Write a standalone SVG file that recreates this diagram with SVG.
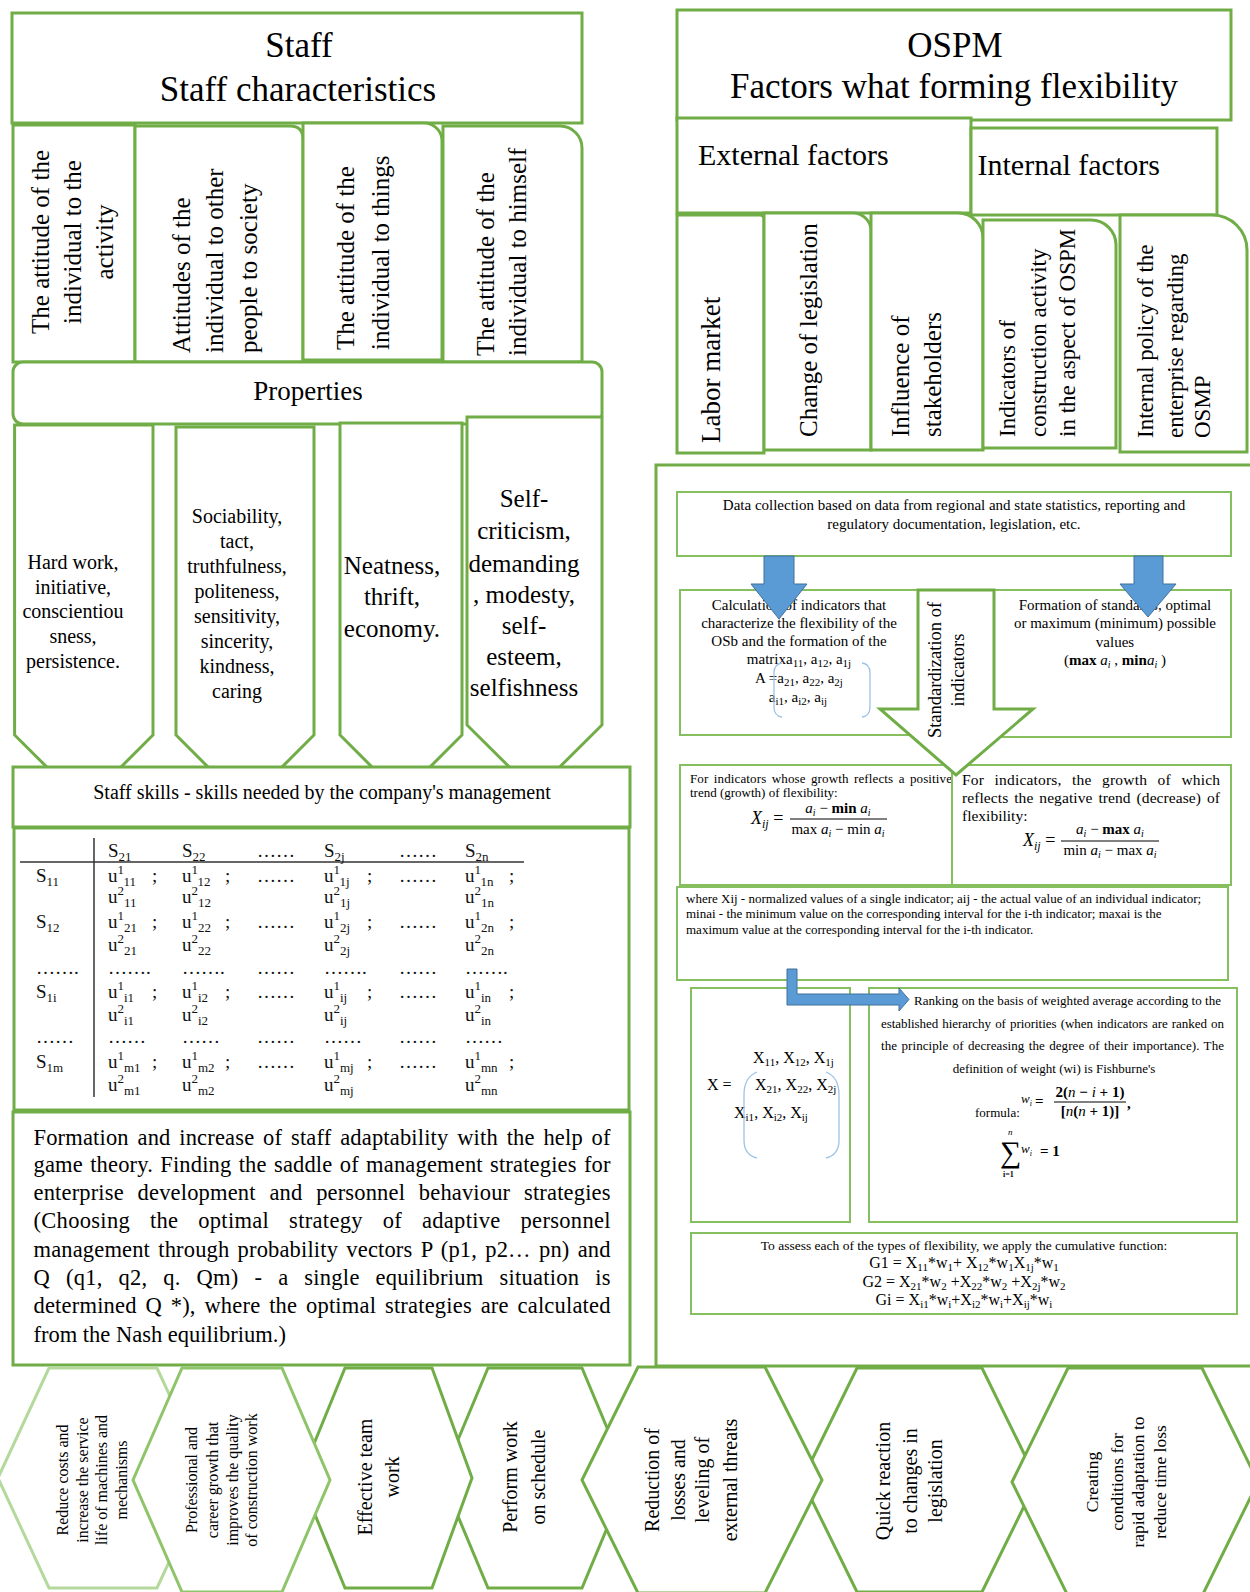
<svg xmlns="http://www.w3.org/2000/svg" width="1250" height="1592" viewBox="0 0 1250 1592">
<style>
.g{fill:#fff;stroke:#70ad47;stroke-width:3}
.gl{fill:#fff;stroke:#86bf60;stroke-width:2}
.t{font-family:"Liberation Serif","Times New Roman",serif;fill:#000}
.it{font-style:italic}
.b{font-weight:bold}
.blue{fill:#5b9bd5;stroke:#41719c;stroke-width:1}
.br{fill:none;stroke:#9dc3e6;stroke-width:1.3}
.mx{font-family:"Liberation Serif","Times New Roman",serif;font-size:19px;fill:#111}
.ln{stroke:#333;stroke-width:1.5}
</style>
<rect width="1250" height="1592" fill="#fff"/>

<!-- LEFT COLUMN -->
<g id="staff">
<rect class="g" x="12" y="13" width="570" height="110"/>
<text class="t" font-size="35" text-anchor="middle" x="299" y="57">Staff</text>
<text class="t" font-size="35" text-anchor="middle" x="298" y="101">Staff characteristics</text>
</g>
<g id="attA">
<rect class="g" x="13" y="125" width="122" height="237"/>
<text class="t" font-size="25" text-anchor="middle" transform="translate(0,242) rotate(-90)"><tspan x="0" y="49">The attitude of the</tspan><tspan x="0" y="80.5">individual to the</tspan><tspan x="0" y="112.5">activity</tspan></text>
</g>
<g id="attB">
<path class="g" d="M135,126 H290 Q303,126 303,139 V362 H135 Z"/>
<text class="t" font-size="25" transform="translate(0,353) rotate(-90)"><tspan x="0" y="189.5">Attitudes of the</tspan><tspan x="0" y="223">individual to other</tspan><tspan x="0" y="256.5">people to society</tspan></text>
</g>
<g id="attC">
<path class="g" d="M303,123 H424 A18,18 0 0 1 442,141 V360 H303 Z"/>
<text class="t" font-size="25" transform="translate(0,350) rotate(-90)"><tspan x="0" y="353.5">The attitude of the</tspan><tspan x="0" y="389">individual to things</tspan></text>
</g>
<g id="attD">
<path class="g" d="M443,126 H560 A22,22 0 0 1 582,148 V362 H443 Z"/>
<text class="t" font-size="25" transform="translate(0,356) rotate(-90)"><tspan x="0" y="493.5">The attitude of the</tspan><tspan x="0" y="525.5">individual to himself</tspan></text>
</g>
<g id="properties">
<rect class="g" x="13" y="362" width="589" height="62" rx="10"/>
<text class="t" font-size="27" text-anchor="middle" x="308" y="400">Properties</text>
</g>
<g id="prop1">
<polygon class="g" points="14.6,425 153,425 153,735 84,804 14.6,735"/>
<text class="t" font-size="20" text-anchor="middle"><tspan x="73" y="569">Hard work,</tspan><tspan x="73" y="594">initiative,</tspan><tspan x="73" y="618">conscientiou</tspan><tspan x="73" y="643">sness,</tspan><tspan x="73" y="668">persistence.</tspan></text>
</g>
<g id="prop2">
<polygon class="g" points="176,427 314,427 314,735 245,804 176,735"/>
<text class="t" font-size="20" text-anchor="middle"><tspan x="237" y="523">Sociability,</tspan><tspan x="237" y="548">tact,</tspan><tspan x="237" y="573">truthfulness,</tspan><tspan x="237" y="598">politeness,</tspan><tspan x="237" y="623">sensitivity,</tspan><tspan x="237" y="648">sincerity,</tspan><tspan x="237" y="673">kindness,</tspan><tspan x="237" y="698">caring</tspan></text>
</g>
<g id="prop3">
<polygon class="g" points="340,423 462,423 462,735 401,796 340,735"/>
<text class="t" font-size="25" text-anchor="middle"><tspan x="392" y="574">Neatness,</tspan><tspan x="392" y="605">thrift,</tspan><tspan x="392" y="637">economy.</tspan></text>
</g>
<g id="prop4">
<polygon class="g" points="467,417 602,417 602,725 534.5,792 467,725"/>
<text class="t" font-size="25" text-anchor="middle"><tspan x="524" y="507">Self-</tspan><tspan x="524" y="539">criticism,</tspan><tspan x="524" y="572">demanding</tspan><tspan x="524" y="603">, modesty,</tspan><tspan x="524" y="634">self-</tspan><tspan x="524" y="665">esteem,</tspan><tspan x="524" y="696">selfishness</tspan></text>
</g>
<g id="skills">
<rect class="g" x="13" y="767" width="617" height="60"/>
<text class="t" font-size="20" text-anchor="middle" x="322" y="799">Staff skills - skills needed by the company's management</text>
</g>
<g id="matrix">
<rect class="g" x="14" y="828" width="615" height="282"/>
<line class="ln" x1="20" y1="862" x2="524" y2="862"/>
<line class="ln" x1="94" y1="838" x2="94" y2="1097"/>
<g class="mx">
<text x="108" y="857">S<tspan font-size="13" dy="4">21</tspan></text>
<text x="182" y="857">S<tspan font-size="13" dy="4">22</tspan></text>
<text x="257" y="857">……</text>
<text x="324" y="857">S<tspan font-size="13" dy="4">2j</tspan></text>
<text x="399" y="857">……</text>
<text x="465" y="857">S<tspan font-size="13" dy="4">2n</tspan></text>

<text x="36" y="882">S<tspan font-size="13" dy="4">11</tspan></text>
<text x="108" y="882">u<tspan font-size="13" dy="-8">1</tspan><tspan font-size="13" dy="12">11</tspan></text><text x="152" y="882">;</text>
<text x="182" y="882">u<tspan font-size="13" dy="-8">1</tspan><tspan font-size="13" dy="12">12</tspan></text><text x="225" y="882">;</text>
<text x="257" y="882">……</text>
<text x="324" y="882">u<tspan font-size="13" dy="-8">1</tspan><tspan font-size="13" dy="12">1j</tspan></text><text x="367" y="882">;</text>
<text x="399" y="882">……</text>
<text x="465" y="882">u<tspan font-size="13" dy="-8">1</tspan><tspan font-size="13" dy="12">1n</tspan></text><text x="509" y="882">;</text>
<text x="108" y="903">u<tspan font-size="13" dy="-8">2</tspan><tspan font-size="13" dy="12">11</tspan></text>
<text x="182" y="903">u<tspan font-size="13" dy="-8">2</tspan><tspan font-size="13" dy="12">12</tspan></text>
<text x="324" y="903">u<tspan font-size="13" dy="-8">2</tspan><tspan font-size="13" dy="12">1j</tspan></text>
<text x="465" y="903">u<tspan font-size="13" dy="-8">2</tspan><tspan font-size="13" dy="12">1n</tspan></text>

<text x="36" y="928">S<tspan font-size="13" dy="4">12</tspan></text>
<text x="108" y="928">u<tspan font-size="13" dy="-8">1</tspan><tspan font-size="13" dy="12">21</tspan></text><text x="152" y="928">;</text>
<text x="182" y="928">u<tspan font-size="13" dy="-8">1</tspan><tspan font-size="13" dy="12">22</tspan></text><text x="225" y="928">;</text>
<text x="257" y="928">……</text>
<text x="324" y="928">u<tspan font-size="13" dy="-8">1</tspan><tspan font-size="13" dy="12">2j</tspan></text><text x="367" y="928">;</text>
<text x="399" y="928">……</text>
<text x="465" y="928">u<tspan font-size="13" dy="-8">1</tspan><tspan font-size="13" dy="12">2n</tspan></text><text x="509" y="928">;</text>
<text x="108" y="951">u<tspan font-size="13" dy="-8">2</tspan><tspan font-size="13" dy="12">21</tspan></text>
<text x="182" y="951">u<tspan font-size="13" dy="-8">2</tspan><tspan font-size="13" dy="12">22</tspan></text>
<text x="324" y="951">u<tspan font-size="13" dy="-8">2</tspan><tspan font-size="13" dy="12">2j</tspan></text>
<text x="465" y="951">u<tspan font-size="13" dy="-8">2</tspan><tspan font-size="13" dy="12">2n</tspan></text>

<text x="36" y="974">…….</text><text x="108" y="974">…….</text><text x="182" y="974">…….</text><text x="257" y="974">……</text><text x="324" y="974">…….</text><text x="399" y="974">……</text><text x="465" y="974">…….</text>

<text x="36" y="998">S<tspan font-size="13" dy="4">1i</tspan></text>
<text x="108" y="998">u<tspan font-size="13" dy="-8">1</tspan><tspan font-size="13" dy="12">i1</tspan></text><text x="152" y="998">;</text>
<text x="182" y="998">u<tspan font-size="13" dy="-8">1</tspan><tspan font-size="13" dy="12">i2</tspan></text><text x="225" y="998">;</text>
<text x="257" y="998">……</text>
<text x="324" y="998">u<tspan font-size="13" dy="-8">1</tspan><tspan font-size="13" dy="12">ij</tspan></text><text x="367" y="998">;</text>
<text x="399" y="998">……</text>
<text x="465" y="998">u<tspan font-size="13" dy="-8">1</tspan><tspan font-size="13" dy="12">in</tspan></text><text x="509" y="998">;</text>
<text x="108" y="1021">u<tspan font-size="13" dy="-8">2</tspan><tspan font-size="13" dy="12">i1</tspan></text>
<text x="182" y="1021">u<tspan font-size="13" dy="-8">2</tspan><tspan font-size="13" dy="12">i2</tspan></text>
<text x="324" y="1021">u<tspan font-size="13" dy="-8">2</tspan><tspan font-size="13" dy="12">ij</tspan></text>
<text x="465" y="1021">u<tspan font-size="13" dy="-8">2</tspan><tspan font-size="13" dy="12">in</tspan></text>

<text x="36" y="1043">……</text><text x="108" y="1043">……</text><text x="182" y="1043">……</text><text x="257" y="1043">……</text><text x="324" y="1043">……</text><text x="399" y="1043">……</text><text x="465" y="1043">……</text>

<text x="36" y="1068">S<tspan font-size="13" dy="4">1m</tspan></text>
<text x="108" y="1068">u<tspan font-size="13" dy="-8">1</tspan><tspan font-size="13" dy="12">m1</tspan></text><text x="152" y="1068">;</text>
<text x="182" y="1068">u<tspan font-size="13" dy="-8">1</tspan><tspan font-size="13" dy="12">m2</tspan></text><text x="225" y="1068">;</text>
<text x="257" y="1068">……</text>
<text x="324" y="1068">u<tspan font-size="13" dy="-8">1</tspan><tspan font-size="13" dy="12">mj</tspan></text><text x="367" y="1068">;</text>
<text x="399" y="1068">……</text>
<text x="465" y="1068">u<tspan font-size="13" dy="-8">1</tspan><tspan font-size="13" dy="12">mn</tspan></text><text x="509" y="1068">;</text>
<text x="108" y="1091">u<tspan font-size="13" dy="-8">2</tspan><tspan font-size="13" dy="12">m1</tspan></text>
<text x="182" y="1091">u<tspan font-size="13" dy="-8">2</tspan><tspan font-size="13" dy="12">m2</tspan></text>
<text x="324" y="1091">u<tspan font-size="13" dy="-8">2</tspan><tspan font-size="13" dy="12">mj</tspan></text>
<text x="465" y="1091">u<tspan font-size="13" dy="-8">2</tspan><tspan font-size="13" dy="12">mn</tspan></text>
</g>
</g>
<g id="formation">
<rect class="g" x="13" y="1112" width="617" height="253"/>
<g class="t" font-size="22.5">
<text x="33.5" y="1145" word-spacing="3" textLength="577" lengthAdjust="spacing">Formation and increase of staff adaptability with the help of</text>
<text x="33.5" y="1172" word-spacing="1.5" textLength="577" lengthAdjust="spacing">game theory. Finding the saddle of management strategies for</text>
<text x="33.5" y="1200" word-spacing="8" textLength="577" lengthAdjust="spacing">enterprise development and personnel behaviour strategies</text>
<text x="33.5" y="1228" word-spacing="14" textLength="577" lengthAdjust="spacing">(Choosing the optimal strategy of adaptive personnel</text>
<text x="33.5" y="1257" word-spacing="2.5" textLength="577" lengthAdjust="spacing">management through probability vectors P (p1, p2… pn) and</text>
<text x="33.5" y="1285" word-spacing="10" textLength="577" lengthAdjust="spacing">Q (q1, q2, q. Qm) - a single equilibrium situation is</text>
<text x="33.5" y="1313" word-spacing="3" textLength="577" lengthAdjust="spacing">determined Q *), where the optimal strategies are calculated</text>
<text x="33.5" y="1342">from the Nash equilibrium.)</text>
</g>
</g>

<!-- RIGHT COLUMN -->
<g id="ospm">
<rect class="g" x="677" y="10" width="554" height="110"/>
<text class="t" font-size="35" text-anchor="middle" x="955" y="57">OSPM</text>
<text class="t" font-size="35" text-anchor="middle" x="954" y="98">Factors what forming flexibility</text>
</g>
<g id="external">
<rect class="g" x="677" y="118" width="294" height="95"/>
<text class="t" font-size="30" x="698" y="165">External factors</text>
</g>
<g id="internal">
<rect class="g" x="971" y="128" width="246" height="87"/>
<text class="t" font-size="30" x="977.5" y="175">Internal factors</text>
</g>
<g id="labor">
<path class="g" d="M677,215 H760 Q764,215 764,219 V453 H677 Z"/>
<text class="t" font-size="27" transform="translate(0,443) rotate(-90)"><tspan x="0" y="720">Labor market</tspan></text>
</g>
<g id="legislation">
<path class="g" d="M764,213 H853 A18,18 0 0 1 871,231 V450 H764 Z"/>
<text class="t" font-size="25" transform="translate(0,437) rotate(-90)"><tspan x="0" y="817">Change of legislation</tspan></text>
</g>
<g id="stakeholders">
<path class="g" d="M871,213 H958 A25,25 0 0 1 983,238 V450 H871 Z"/>
<text class="t" font-size="25" transform="translate(0,437) rotate(-90)"><tspan x="0" y="909">Influence of</tspan><tspan x="0" y="941">stakeholders</tspan></text>
</g>
<g id="indicators">
<path class="g" d="M983,220 H1091 A25,25 0 0 1 1116,245 V448 H983 Z"/>
<text class="t" font-size="23" transform="translate(0,437) rotate(-90)"><tspan x="0" y="1015">Indicators of</tspan><tspan x="0" y="1046">construction activity</tspan><tspan x="0" y="1075">in the aspect of OSPM</tspan></text>
</g>
<g id="policy">
<path class="g" d="M1120,215 H1212 A35,35 0 0 1 1247,250 V452 H1120 Z"/>
<text class="t" font-size="23" transform="translate(0,438) rotate(-90)"><tspan x="0" y="1153">Internal policy of the</tspan><tspan x="0" y="1183">enterprise regarding</tspan><tspan x="0" y="1210">OSMP</tspan></text>
</g>

<g id="method-panel">
<rect x="656" y="465" width="600" height="901" fill="none" stroke="#70ad47" stroke-width="3"/>
</g>
<g id="data">
<rect class="gl" x="677" y="492" width="554" height="64"/>
<text class="t" font-size="15" text-anchor="middle"><tspan x="954" y="510">Data collection based on data from regional and state statistics, reporting and</tspan><tspan x="954" y="529">regulatory documentation, legislation, etc.</tspan></text>
</g>
<g id="calc">
<rect class="gl" x="680" y="590" width="262" height="145"/>
<g class="t" font-size="15" text-anchor="middle">
<text x="799" y="610">Calculation of indicators that</text>
<text x="799" y="628">characterize the flexibility of the</text>
<text x="799" y="646">OSb and the formation of the</text>
<text x="799" y="664">matrixa<tspan font-size="11" dy="3">11</tspan><tspan dy="-3">, a</tspan><tspan font-size="11" dy="3">12</tspan><tspan dy="-3">, a</tspan><tspan font-size="11" dy="3">1j</tspan></text>
<text x="799" y="683">A =a<tspan font-size="11" dy="3">21</tspan><tspan dy="-3">, a</tspan><tspan font-size="11" dy="3">22</tspan><tspan dy="-3">, a</tspan><tspan font-size="11" dy="3">2j</tspan></text>
<text x="798" y="702">a<tspan font-size="11" dy="3">i1</tspan><tspan dy="-3">, a</tspan><tspan font-size="11" dy="3">i2</tspan><tspan dy="-3">, a</tspan><tspan font-size="11" dy="3">ij</tspan></text>
</g>
<path class="br" d="M782,663 Q774,664 774,673 V707 Q774,716 782,717"/>
<path class="br" d="M862,663 Q870,664 870,673 V707 Q870,716 862,717"/>
</g>
<g id="standards">
<rect class="gl" x="960" y="590" width="271" height="147"/>
<g class="t" font-size="15" text-anchor="middle">
<text x="1115" y="610">Formation of standards, optimal</text>
<text x="1115" y="628">or maximum (minimum) possible</text>
<text x="1115" y="647">values</text>
<text x="1115" y="665">(<tspan class="b">max</tspan><tspan class="it"> a</tspan><tspan class="it" font-size="10" dy="3">i</tspan><tspan dy="-3"> , </tspan><tspan class="b">min</tspan><tspan class="it">a</tspan><tspan class="it" font-size="10" dy="3">i</tspan><tspan dy="-3"> )</tspan></text>
</g>
</g>
<g id="positive">
<rect class="gl" x="680" y="765" width="272" height="120"/>
<text class="t" font-size="13" x="690" y="783" word-spacing="2" textLength="262" lengthAdjust="spacing">For indicators whose growth reflects a positive</text>
<text class="t" font-size="13" x="690" y="797">trend (growth) of flexibility:</text>
<text class="t it" font-size="18" x="751" y="824">X<tspan font-size="12" dy="4">ij</tspan><tspan dy="-4" font-style="normal"> =</tspan></text>
<text class="t" font-size="15" text-anchor="middle" x="838" y="813"><tspan class="it">a</tspan><tspan class="it" font-size="10" dy="3">i</tspan><tspan dy="-3"> − </tspan><tspan class="b">min</tspan><tspan class="it"> a</tspan><tspan class="it" font-size="10" dy="3">i</tspan></text>
<line x1="790" y1="819" x2="887" y2="819" stroke="#000" stroke-width="1"/>
<text class="t" font-size="15" text-anchor="middle" x="838" y="834">max<tspan class="it"> a</tspan><tspan class="it" font-size="10" dy="3">i</tspan><tspan dy="-3"> − min </tspan><tspan class="it">a</tspan><tspan class="it" font-size="10" dy="3">i</tspan></text>
</g>
<g id="negative">
<rect class="gl" x="952" y="765" width="279" height="120"/>
<text class="t" font-size="15.5" x="962" y="785" word-spacing="6.5" textLength="258" lengthAdjust="spacing">For indicators, the growth of which</text>
<text class="t" font-size="15.5" x="962" y="803" word-spacing="2" textLength="258" lengthAdjust="spacing">reflects the negative trend (decrease) of</text>
<text class="t" font-size="15.5" x="962" y="821">flexibility:</text>
<text class="t it" font-size="18" x="1023" y="846">X<tspan font-size="12" dy="4">ij</tspan><tspan dy="-4" font-style="normal"> =</tspan></text>
<text class="t" font-size="15" text-anchor="middle" x="1110" y="834"><tspan class="it">a</tspan><tspan class="it" font-size="10" dy="3">i</tspan><tspan dy="-3"> − </tspan><tspan class="b">max</tspan><tspan class="it"> a</tspan><tspan class="it" font-size="10" dy="3">i</tspan></text>
<line x1="1061" y1="841" x2="1159" y2="841" stroke="#000" stroke-width="1"/>
<text class="t" font-size="15" text-anchor="middle" x="1110" y="855">min<tspan class="it"> a</tspan><tspan class="it" font-size="10" dy="3">i</tspan><tspan dy="-3"> − max </tspan><tspan class="it">a</tspan><tspan class="it" font-size="10" dy="3">i</tspan></text>
</g>
<g id="where">
<rect class="gl" x="677" y="887" width="551" height="93"/>
<g class="t" font-size="13">
<text x="686" y="903">where Xij - normalized values of a single indicator; aij - the actual value of an individual indicator;</text>
<text x="686" y="918">minai - the minimum value on the corresponding interval for the i-th indicator; maxai is the</text>
<text x="686" y="934">maximum value at the corresponding interval for the i-th indicator.</text>
</g>
</g>
<g id="xmatrix">
<rect class="gl" x="691" y="988" width="159" height="234"/>
<g class="t" font-size="16">
<text x="753" y="1063">X<tspan font-size="11" dy="3">11</tspan><tspan dy="-3">, X</tspan><tspan font-size="11" dy="3">12</tspan><tspan dy="-3">, X</tspan><tspan font-size="11" dy="3">1j</tspan></text>
<text x="707" y="1090">X =</text>
<text x="755" y="1090">X<tspan font-size="11" dy="3">21</tspan><tspan dy="-3">, X</tspan><tspan font-size="11" dy="3">22</tspan><tspan dy="-3">, X</tspan><tspan font-size="11" dy="3">2j</tspan></text>
<text x="734" y="1118">X<tspan font-size="11" dy="3">i1</tspan><tspan dy="-3">, X</tspan><tspan font-size="11" dy="3">i2</tspan><tspan dy="-3">, X</tspan><tspan font-size="11" dy="3">ij</tspan></text>
</g>
<path class="br" d="M757,1072 Q744,1077 744,1095 V1140 Q744,1155 757,1158"/>
<path class="br" d="M826,1072 Q839,1077 839,1095 V1140 Q839,1155 826,1158"/>
</g>
<g id="ranking">
<rect class="gl" x="869" y="988" width="368" height="234"/>
<g class="t" font-size="13">
<text x="914" y="1005" textLength="307" lengthAdjust="spacing">Ranking on the basis of weighted average according to the</text>
<text x="881" y="1028" word-spacing="1" textLength="343" lengthAdjust="spacing">established hierarchy of priorities (when indicators are ranked on</text>
<text x="881" y="1050" word-spacing="1" textLength="343" lengthAdjust="spacing">the principle of decreasing the degree of their importance). The</text>
<text x="1054" y="1073" text-anchor="middle">definition of weight (wi) is Fishburne's</text>
<text x="975" y="1117">formula:</text>
</g>
<text class="t it" font-size="13" x="1021" y="1103">w<tspan font-size="8" dy="3">i</tspan></text>
<text class="t b" font-size="15" x="1035" y="1106">=</text>
<text class="t b" font-size="15" text-anchor="middle" x="1090" y="1097">2(<tspan class="it" font-weight="normal">n</tspan> − <tspan class="it" font-weight="normal">i</tspan> + 1)</text>
<line x1="1054" y1="1102" x2="1126" y2="1102" stroke="#000" stroke-width="1.2"/>
<text class="t b" font-size="15" text-anchor="middle" x="1090" y="1116">[<tspan class="it" font-weight="normal">n</tspan>(<tspan class="it" font-weight="normal">n</tspan> + 1)]</text>
<text class="t b" font-size="15" x="1127" y="1108">,</text>
<text class="t" font-size="30" x="1000" y="1162">∑</text>
<text class="t it" font-size="9" x="1008" y="1135">n</text>
<text class="t b" font-size="8" x="1003" y="1177">i=1</text>
<text class="t it" font-size="13" x="1021" y="1153">w<tspan font-size="8" dy="3">i</tspan></text>
<text class="t b" font-size="15" x="1040" y="1156">= 1</text>
</g>
<g id="cumulative">
<rect class="gl" x="691" y="1233" width="546" height="81"/>
<text class="t" font-size="13.5" text-anchor="middle" x="964" y="1250">To assess each of the types of flexibility, we apply the cumulative function:</text>
<g class="t" font-size="16" text-anchor="middle">
<text x="964" y="1268">G1 = X<tspan font-size="11" dy="3">11</tspan><tspan dy="-3">*w</tspan><tspan font-size="11" dy="3">1</tspan><tspan dy="-3">+ X</tspan><tspan font-size="11" dy="3">12</tspan><tspan dy="-3">*w</tspan><tspan font-size="11" dy="3">1</tspan><tspan dy="-3">X</tspan><tspan font-size="11" dy="3">1j</tspan><tspan dy="-3">*w</tspan><tspan font-size="11" dy="3">1</tspan></text>
<text x="964" y="1287">G2 = X<tspan font-size="11" dy="3">21</tspan><tspan dy="-3">*w</tspan><tspan font-size="11" dy="3">2</tspan><tspan dy="-3"> +X</tspan><tspan font-size="11" dy="3">22</tspan><tspan dy="-3">*w</tspan><tspan font-size="11" dy="3">2</tspan><tspan dy="-3"> +X</tspan><tspan font-size="11" dy="3">2j</tspan><tspan dy="-3">*w</tspan><tspan font-size="11" dy="3">2</tspan></text>
<text x="964" y="1305">Gi = X<tspan font-size="11" dy="3">i1</tspan><tspan dy="-3">*w</tspan><tspan font-size="11" dy="3">i</tspan><tspan dy="-3">+X</tspan><tspan font-size="11" dy="3">i2</tspan><tspan dy="-3">*w</tspan><tspan font-size="11" dy="3">i</tspan><tspan dy="-3">+X</tspan><tspan font-size="11" dy="3">ij</tspan><tspan dy="-3">*w</tspan><tspan font-size="11" dy="3">i</tspan></text>
</g>
</g>

<g id="connectors">
<polygon class="blue" points="764,556 794,556 794,584 807,584 779,619 751,584 764,584"/>
<polygon class="blue" points="1134,556 1163,556 1163,584 1176,584 1148,617 1120,584 1134,584"/>
<polygon class="g" points="918,590 994,590 994,709 1033,709 956,775 880,709 918,709"/>
<text class="t" font-size="18.5" text-anchor="middle" transform="translate(0,670) rotate(-90)"><tspan x="0" y="940.5">Standardization of</tspan><tspan x="0" y="963.5">indicators</tspan></text>
<polygon class="blue" points="787,969 797,969 797,994 899,994 899,988 909,999.5 899,1011 899,1005 787,1005"/>
</g>

<!-- BOTTOM HEXAGONS -->
<g id="hex1">
<polygon points="-2,1478 49,1368 157,1368 208,1478 157,1588 49,1588" fill="#fff" stroke="#b5d99c" stroke-width="3"/>
<text class="t" font-size="16" text-anchor="middle" transform="translate(0,1480) rotate(-90)"><tspan x="0" y="68">Reduce costs and</tspan><tspan x="0" y="88">increase the service</tspan><tspan x="0" y="107">life of machines and</tspan><tspan x="0" y="127">mechanisms</tspan></text>
</g>
<g id="hex4">
<polygon class="g" points="442,1478 488,1368 582,1368 628,1478 582,1588 488,1588"/>
<text class="t" font-size="20" text-anchor="middle" transform="translate(0,1477) rotate(-90)"><tspan x="0" y="517">Perform work</tspan><tspan x="0" y="545">on schedule</tspan></text>
</g>
<g id="hex6">
<polygon class="g" points="802,1480 857,1368 982,1368 1037,1480 982,1592 857,1592"/>
<text class="t" font-size="20" text-anchor="middle" transform="translate(0,1481) rotate(-90)"><tspan x="0" y="890">Quick reaction</tspan><tspan x="0" y="917">to changes in</tspan><tspan x="0" y="942">legislation</tspan></text>
</g>
<g id="hex3">
<polygon class="g" points="300,1478 345,1368 432,1368 472,1478 432,1588 345,1588"/>
<text class="t" font-size="20" text-anchor="middle" transform="translate(0,1477) rotate(-90)"><tspan x="0" y="372">Effective team</tspan><tspan x="0" y="399">work</tspan></text>
</g>
<g id="hex2">
<polygon points="133,1480 182,1368 282,1368 330,1480 282,1592 182,1592" fill="#fff" stroke="#8ec46a" stroke-width="3"/>
<text class="t" font-size="16" text-anchor="middle" transform="translate(0,1480) rotate(-90)"><tspan x="0" y="197">Professional and</tspan><tspan x="0" y="218">career growth that</tspan><tspan x="0" y="238">improves the quality</tspan><tspan x="0" y="257">of construction work</tspan></text>
</g>
<g id="hex5">
<polygon class="g" points="582,1480 638,1367 765,1367 822,1480 765,1593 638,1593"/>
<text class="t" font-size="20" text-anchor="middle" transform="translate(0,1480) rotate(-90)"><tspan x="0" y="659">Reduction of</tspan><tspan x="0" y="685">losses and</tspan><tspan x="0" y="709">leveling of</tspan><tspan x="0" y="737">external threats</tspan></text>
</g>
<g id="hex7">
<polygon class="g" points="1012,1482 1068,1368 1202,1368 1258,1482 1202,1596 1068,1596"/>
<text class="t" font-size="17.5" text-anchor="middle" transform="translate(0,1482) rotate(-90)"><tspan x="0" y="1098">Creating</tspan><tspan x="0" y="1123">conditions for</tspan><tspan x="0" y="1144">rapid adaptation to</tspan><tspan x="0" y="1166">reduce time loss</tspan></text>
</g>
</svg>
